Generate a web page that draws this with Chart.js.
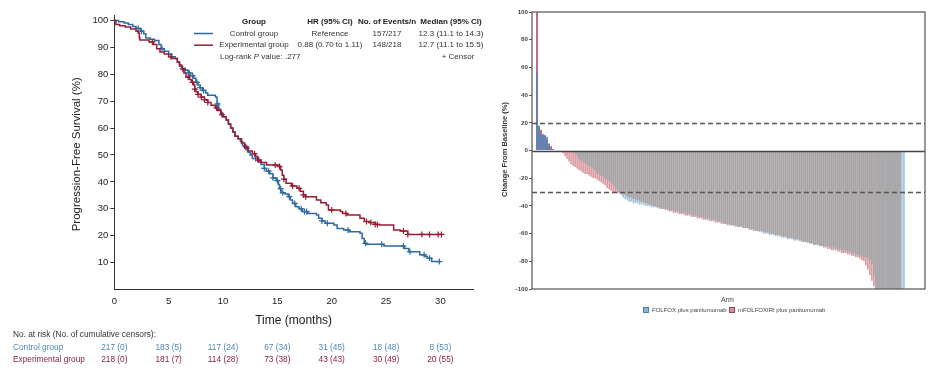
<!DOCTYPE html>
<html><head><meta charset="utf-8">
<script src="https://cdn.jsdelivr.net/npm/chart.js@4.4.0/dist/chart.umd.min.js"></script>
<style>
html,body{margin:0;padding:0;background:#fff;width:938px;height:377px;overflow:hidden;}
#kmWrap{position:absolute;left:0;top:0;width:490px;height:377px;}
#wfWrap{position:absolute;left:490px;top:0;width:448px;height:377px;}
</style></head>
<body>
<div id="kmWrap"><canvas id="km" width="490" height="377"></canvas></div>
<div id="wfWrap"><canvas id="wf" width="448" height="377"></canvas></div>
<script>
// ---------- Kaplan-Meier data (months, % progression-free) ----------
const ctrlTime = [0,0.4,0.9,1.3,1.7,2.0,2.4,2.7,2.9,3.3,3.7,4.1,4.3,4.6,5.0,5.3,5.6,5.8,6.0,6.2,6.5,6.8,7.0,7.3,7.5,7.7,7.9,8.1,8.4,8.6,9.3,9.45,9.6,9.8,10.0,10.3,10.5,10.7,10.9,11.1,11.4,11.6,11.8,12.0,12.3,12.5,12.7,13.2,13.5,13.8,14.0,14.3,14.6,14.9,15.1,15.2,15.35,15.7,16.0,16.2,16.4,16.7,17.0,17.3,17.8,18.6,18.8,19.1,19.4,20.2,20.5,21.1,21.6,22.6,22.8,23.0,23.2,24.8,26.7,27.1,28.1,28.6,28.8,29.2,30.0];
const ctrlSurv = [100,99.5,99,98.5,97.7,97,96,95,93.5,93,92.5,91,89.5,88.5,87.5,86.5,85.8,84.5,83,82,81.5,80.5,79.5,78.5,77,76,75,74,73,72.2,71.5,69,67,65.5,64.2,63,61.5,60,58.5,57,56,55,53.5,52.5,51,50,48.7,47.5,46.5,45,44,43,41.5,40.5,39,37.5,36,35.5,34.5,33.3,32,30.8,30,29,28.3,27.7,26.5,25.5,24.6,24,22.7,22.1,21.5,20.9,19,17.2,16.8,16.2,15.3,14.1,12.9,12.3,11.6,10.4,10.4];
const expTime = [0,0.15,0.5,1.0,1.5,2.0,2.2,2.3,2.35,3.2,3.6,3.9,4.2,4.6,5.0,5.3,5.8,6.0,6.2,6.4,6.6,6.9,7.1,7.3,7.4,7.5,7.7,8.0,8.3,8.6,8.9,9.3,9.5,9.8,10.0,10.3,10.5,10.7,10.9,11.1,11.4,11.7,12.0,12.3,12.7,13.0,13.2,13.5,14.0,15.2,15.3,15.45,15.6,15.8,16.3,16.8,17.1,17.4,17.6,18.6,19.0,19.5,19.7,20.8,21.0,21.4,22.6,23.0,23.5,24.0,24.4,25.7,26.3,27.0,30.1];
const expSurv = [100,98.5,98,97.5,96.8,96,95.3,93.5,92.7,92,91,89.5,88.3,87.5,86.5,85.8,84.5,83.4,82,80.5,79,78,77,76,74.5,73.5,72.5,71.5,70.5,69.5,68.5,67.5,66.5,65,64.2,63,61.5,60,58.5,57,56,54.5,53,51.5,50.5,49.4,48.1,47.2,46.3,45.7,44.4,42.5,41,39.5,38.5,37.6,36.5,35.2,34.5,33.3,32.3,31.4,29.6,29.0,28.3,27.7,26.5,25.3,24.9,24.2,24.0,22.1,21.8,20.5,20.5];
const ctrlCensor = [2.2,2.5,4.4,6.5,6.9,7.2,7.6,7.9,8.2,9.5,12.2,13.0,13.8,14.2,14.6,15.0,15.3,15.5,16.1,16.6,17.2,17.5,17.7,19.1,19.6,21.5,23.1,24.6,26.6,27.2,28.5,29.0,29.9];
const expCensor = [3.5,5.2,6.3,6.8,7.2,7.4,7.7,8.0,8.3,8.6,9.4,9.9,12.1,12.9,13.3,14.8,15.2,15.6,16.4,17.0,17.4,17.6,20.0,21.3,23.2,23.6,24.0,24.2,26.6,27.0,28.3,29.0,29.8,30.1];
const riskTimes = [0,5,10,15,20,25,30];
const ctrlAtRisk = [217,183,117,67,31,18,8];
const ctrlCumCens = [0,5,24,34,45,48,53];
const expAtRisk = [218,181,114,73,43,30,20];
const expCumCens = [0,7,28,38,43,49,55];
const groupNames = ['Control group','Experimental group'];
const hrText = ['Reference','0.88 (0.70 to 1.11)'];
const eventsText = ['157/217','148/218'];
const medianText = ['12.3 (11.1 to 14.3)','12.7 (11.1 to 15.5)'];
const kmYTicks = [10,20,30,40,50,60,70,80,90,100];
const kmXTicks = [0,5,10,15,20,25,30];

// ---------- Waterfall data (% change from baseline, sorted per arm) ----------
const folfoxChange = [57,18,12,11,11,10,4,1,
 0,0,0,0,0,0,0,0,0,-1,-1,-2,-3,
 -6,-7,-8,-9,-10,-11,-12,-13,-14,-16,
 -17,-18,-19,-20,-21,-22,-23,-24,
 -26,-28,-30,-32,-34,-35,-36,-37,-37,
 -38,-38,-38,-39,-39,-39,-40,-40,-40,-41,-41,-41,-41,-42,-42,-42,
 -42,-42,-43,-43,-43,-44,-44,-44,-45,-45,-45,-46,-46,-46,-47,-47,-47,-48,-48,-48,-49,-49,-49,-50,-50,-50,-51,
 -51,-52,-52,-53,-53,-53,-54,-54,-54,-55,-55,-55,
 -56,-56,-56,-57,-57,-58,-58,-58,
 -59,-59,-60,-60,-60,-61,-61,-61,-62,-62,-62,-63,-63,-63,-64,-64,-64,-65,-65,-65,
 -65,-66,-66,-66,-67,-67,-67,-68,-68,-68,-69,-69,-69,
 -69,-69,-70,-70,-70,-71,-71,-71,-72,-72,-72,-73,-73,-74,-74,-75,-75,
 -76,-76,-77,-77,-78,-79,-82,-90,
 -100,-100,-100,-100,-100,-100,-100,-100,-100,-100,-100,-100,-100,-100,-100];
const folfoxiriChange = [100,17,15,12,11,8,5,3,1,0,0,0,0,
 -2,-4,-6,-8,-10,-11,
 -12,-13,-14,-15,-16,
 -17,-17,-18,-19,-20,-20,-21,
 -22,-23,-24,-25,-27,-28,-29,-30,
 -30,-31,-31,-31,-32,-32,-33,
 -34,-34,-35,-35,-36,-36,-37,-37,-38,-38,-39,-39,-40,-40,-41,-41,-42,-42,
 -43,-43,-44,-44,-45,-45,-45,-46,-46,-46,-47,-47,-47,-48,-48,-48,-49,-49,-49,-50,-50,-50,-51,-51,-51,-52,-52,
 -52,-53,-53,-53,-54,-54,-54,-54,-55,-55,-55,-55,
 -56,-56,-56,-57,-57,-57,-58,-58,
 -58,-58,-59,-59,-59,-60,-60,-60,-61,-61,-61,-62,-62,-62,-63,-63,-63,-64,-64,-64,
 -65,-65,-66,-66,-66,-67,-67,-68,-68,-68,-69,-69,-70,
 -70,-71,-71,-72,-72,-72,-73,-73,-74,-74,-74,-75,-75,-76,-76,-77,-77,
 -78,-79,-80,
 -83,-86,-90,-94,-98,
 -100,-100,-100,-100,-100,-100,-100,-100,-100,-100,-100,-100,-100];
const armNames = ['FOLFOX plus panitumumab','mFOLFOXIRI plus panitumumab'];
const refLines = [20,-30];
const wfYTicks = [100,80,60,40,20,0,-20,-40,-60,-80,-100];

// ---------- helpers ----------
const FONT = '"Liberation Sans", Arial, Helvetica, sans-serif';
const BLUE = '#2c6aa0', RED = '#961c34';
const BLUE_T = '#4f86b8', RED_T = '#8c2046';
function survAt(times, surv, t){let s=surv[0];for(let i=0;i<times.length;i++){if(times[i]<=t)s=surv[i];}return s;}
const toXY=(ts,ss)=>ts.map((t,i)=>({x:t,y:ss[i]}));

// ---------- KM chart ----------
const kmPlugin = {
 id:'kmText',
 afterDraw(chart){
  const ctx=chart.ctx, xs=chart.scales.x, ca=chart.chartArea;
  ctx.save();
  ctx.fillStyle='#222'; ctx.font='11.5px '+FONT; ctx.textAlign='center'; ctx.textBaseline='middle';
  ctx.save(); ctx.translate(77,(ca.top+ca.bottom)/2+2); ctx.rotate(-Math.PI/2); ctx.fillText('Progression-Free Survival (%)',0,0); ctx.restore();
  ctx.font='12px '+FONT; ctx.fillText('Time (months)',(ca.left+ca.right)/2,321);
  const cols=[254,330,387,451];
  ctx.font='bold 8px '+FONT; ctx.fillStyle='#222';
  ['Group','HR (95% CI)','No. of Events/n','Median (95% CI)'].forEach((h,i)=>ctx.fillText(h,cols[i],21.5));
  ctx.font='8px '+FONT;
  const rowsY=[33.5,45.2]; const cols2=[BLUE,RED];
  for(let r=0;r<2;r++){
   ctx.strokeStyle=cols2[r]; ctx.lineWidth=1.5; ctx.beginPath(); ctx.moveTo(194,rowsY[r]); ctx.lineTo(213,rowsY[r]); ctx.stroke();
   ctx.fillStyle='#333';
   ctx.fillText(groupNames[r],cols[0],rowsY[r]);
   ctx.fillText(hrText[r],cols[1],rowsY[r]);
   ctx.fillText(eventsText[r],cols[2],rowsY[r]);
   ctx.fillText(medianText[r],cols[3],rowsY[r]);
  }
  ctx.textAlign='left';
  ctx.fillText('Log-rank ',220,57);
  let w=ctx.measureText('Log-rank ').width;
  ctx.font='italic 8px '+FONT; ctx.fillText('P',220+w,57); w+=ctx.measureText('P').width;
  ctx.font='8px '+FONT; ctx.fillText(' value: .277',220+w,57);
  ctx.textAlign='center'; ctx.fillText('+ Censor',458,57);
  ctx.textAlign='left'; ctx.font='8.3px '+FONT; ctx.fillStyle='#333';
  ctx.fillText('No. at risk (No. of cumulative censors):',13,335);
  ctx.fillStyle=BLUE_T; ctx.fillText(groupNames[0],13,347.7);
  ctx.fillStyle=RED_T; ctx.fillText(groupNames[1],13,360);
  ctx.textAlign='center';
  riskTimes.forEach((t,i)=>{
   const px=xs.getPixelForValue(t);
   ctx.fillStyle=BLUE_T; ctx.fillText(ctrlAtRisk[i]+' ('+ctrlCumCens[i]+')',px,347.7);
   ctx.fillStyle=RED_T; ctx.fillText(expAtRisk[i]+' ('+expCumCens[i]+')',px,360);
  });
  ctx.restore();
 }
};
new Chart(document.getElementById('km'),{
 type:'scatter',
 data:{datasets:[
  {label:'Control group',data:toXY(ctrlTime,ctrlSurv),showLine:true,stepped:'before',borderColor:BLUE,borderWidth:1.5,pointRadius:0,fill:false,order:2},
  {label:'Experimental group',data:toXY(expTime,expSurv),showLine:true,stepped:'before',borderColor:RED,borderWidth:1.5,pointRadius:0,fill:false,order:1},
  {label:'cc',data:ctrlCensor.map(t=>({x:t,y:survAt(ctrlTime,ctrlSurv,t)})),showLine:false,pointStyle:'cross',pointRadius:3,borderColor:BLUE,borderWidth:1.2,backgroundColor:BLUE,order:2},
  {label:'ec',data:expCensor.map(t=>({x:t,y:survAt(expTime,expSurv,t)})),showLine:false,pointStyle:'cross',pointRadius:3,borderColor:RED,borderWidth:1.2,backgroundColor:RED,order:1}
 ]},
 options:{
  responsive:false,animation:false,devicePixelRatio:1,
  layout:{padding:{top:15,right:17,left:0,bottom:0}},
  plugins:{legend:{display:false},tooltip:{enabled:false}},
  scales:{
   x:{type:'linear',min:0,max:33,
      afterBuildTicks(s){s.ticks=kmXTicks.map(v=>({value:v}));},
      afterFit(s){s.height=87.4;},
      ticks:{font:{family:FONT,size:9.5},color:'#222',padding:6,maxRotation:0},
      grid:{drawOnChartArea:false,drawTicks:false},
      border:{display:true,color:'#333',width:1}},
   y:{type:'linear',min:0,max:102,
      afterBuildTicks(s){s.ticks=kmYTicks.map(v=>({value:v}));},
      afterFit(s){s.width=114.3;},
      ticks:{font:{family:FONT,size:9.5},color:'#222',padding:2},
      grid:{drawOnChartArea:false,drawTicks:true,tickLength:4,color:'#333'},
      border:{display:true,color:'#333',width:1}}
  }
 },
 plugins:[kmPlugin]
});

// ---------- Waterfall chart ----------
const nBars=Math.max(folfoxChange.length,folfoxiriChange.length);
const overlap=[];
for(let i=0;i<nBars;i++){
 const a=folfoxChange[i], b=folfoxiriChange[i];
 if(a!==undefined && b!==undefined && a<0 && b<0){
  overlap.push({x:i+1,y:Math.max(a,b)});
 }
}
const wfPlugin={
 id:'wfDeco',
 afterDatasetsDraw(chart){
  const ctx=chart.ctx, ys=chart.scales.y, ca=chart.chartArea;
  ctx.save();
  ctx.strokeStyle='#555'; ctx.lineWidth=1.3; ctx.setLineDash([5,3]);
  refLines.forEach(v=>{const y=Math.round(ys.getPixelForValue(v))+0.5;ctx.beginPath();ctx.moveTo(ca.left,y);ctx.lineTo(ca.right,y);ctx.stroke();});
  ctx.setLineDash([]); ctx.strokeStyle='#444'; ctx.lineWidth=1.3;
  const y0=Math.round(ys.getPixelForValue(0))+0.5; ctx.beginPath(); ctx.moveTo(ca.left,y0); ctx.lineTo(ca.right,y0); ctx.stroke();
  ctx.strokeStyle='#555'; ctx.lineWidth=1.2; ctx.strokeRect(ca.left,ca.top,ca.right-ca.left,ca.bottom-ca.top);
  ctx.restore();
 },
 afterDraw(chart){
  const ctx=chart.ctx, ca=chart.chartArea;
  ctx.save();
  ctx.fillStyle='#333'; ctx.font='bold 7.5px '+FONT; ctx.textAlign='center'; ctx.textBaseline='middle';
  ctx.save(); ctx.translate(15,(ca.top+ca.bottom)/2-1); ctx.rotate(-Math.PI/2); ctx.fillText('Change From Baseline (%)',0,0); ctx.restore();
  const cx=(ca.left+ca.right)/2;
  ctx.font='7px '+FONT; ctx.fillStyle='#444'; ctx.fillText('Arm',cx-1,300.5);
  ctx.font='6px '+FONT; ctx.textAlign='left';
  const items=[[armNames[0],'#8fb6d8','#3b6f9e',153],[armNames[1],'#d6939d','#8d2f45',239]];
  items.forEach(([t,f,s,x])=>{
   ctx.fillStyle=f; ctx.fillRect(x,307,6,6); ctx.strokeStyle=s; ctx.lineWidth=0.8; ctx.strokeRect(x+0.5,307.5,5,5);
   ctx.fillStyle='#444'; ctx.fillText(t,x+9,310.5);
  });
  ctx.restore();
 }
};
const posDark=(light,dark)=>c=>(c.raw && c.raw.y>0)?dark:light;
new Chart(document.getElementById('wf'),{
 type:'bar',
 data:{datasets:[
  {label:armNames[0],data:folfoxChange.map((v,i)=>({x:i+1,y:v})),backgroundColor:posDark('#a4c2dd','#4f88bb'),order:2},
  {label:armNames[1],data:folfoxiriChange.map((v,i)=>({x:i+1,y:v})),backgroundColor:posDark('#d8969f','#b04a60'),order:3},
  {label:'overlap',data:overlap,backgroundColor:'#a9a4a1',order:1}
 ]},
 options:{
  responsive:false,animation:false,devicePixelRatio:1,
  layout:{padding:{top:12,right:13,left:0,bottom:88}},
  plugins:{legend:{display:false},tooltip:{enabled:false}},
  datasets:{bar:{grouped:false,barPercentage:0.8,categoryPercentage:1,borderWidth:0}},
  scales:{
   x:{type:'linear',min:-1.5,max:194.5,display:false,offset:false},
   y:{type:'linear',min:-100,max:100,
      afterBuildTicks(s){s.ticks=wfYTicks.map(v=>({value:v}));},
      afterFit(s){s.width=42;},
      ticks:{font:{family:FONT,size:6.2,weight:'bold'},color:'#444',padding:1},
      grid:{drawOnChartArea:false,drawTicks:true,tickLength:3,color:'#555'},
      border:{display:false}}
  }
 },
 plugins:[wfPlugin]
});
</script>
</body></html>
